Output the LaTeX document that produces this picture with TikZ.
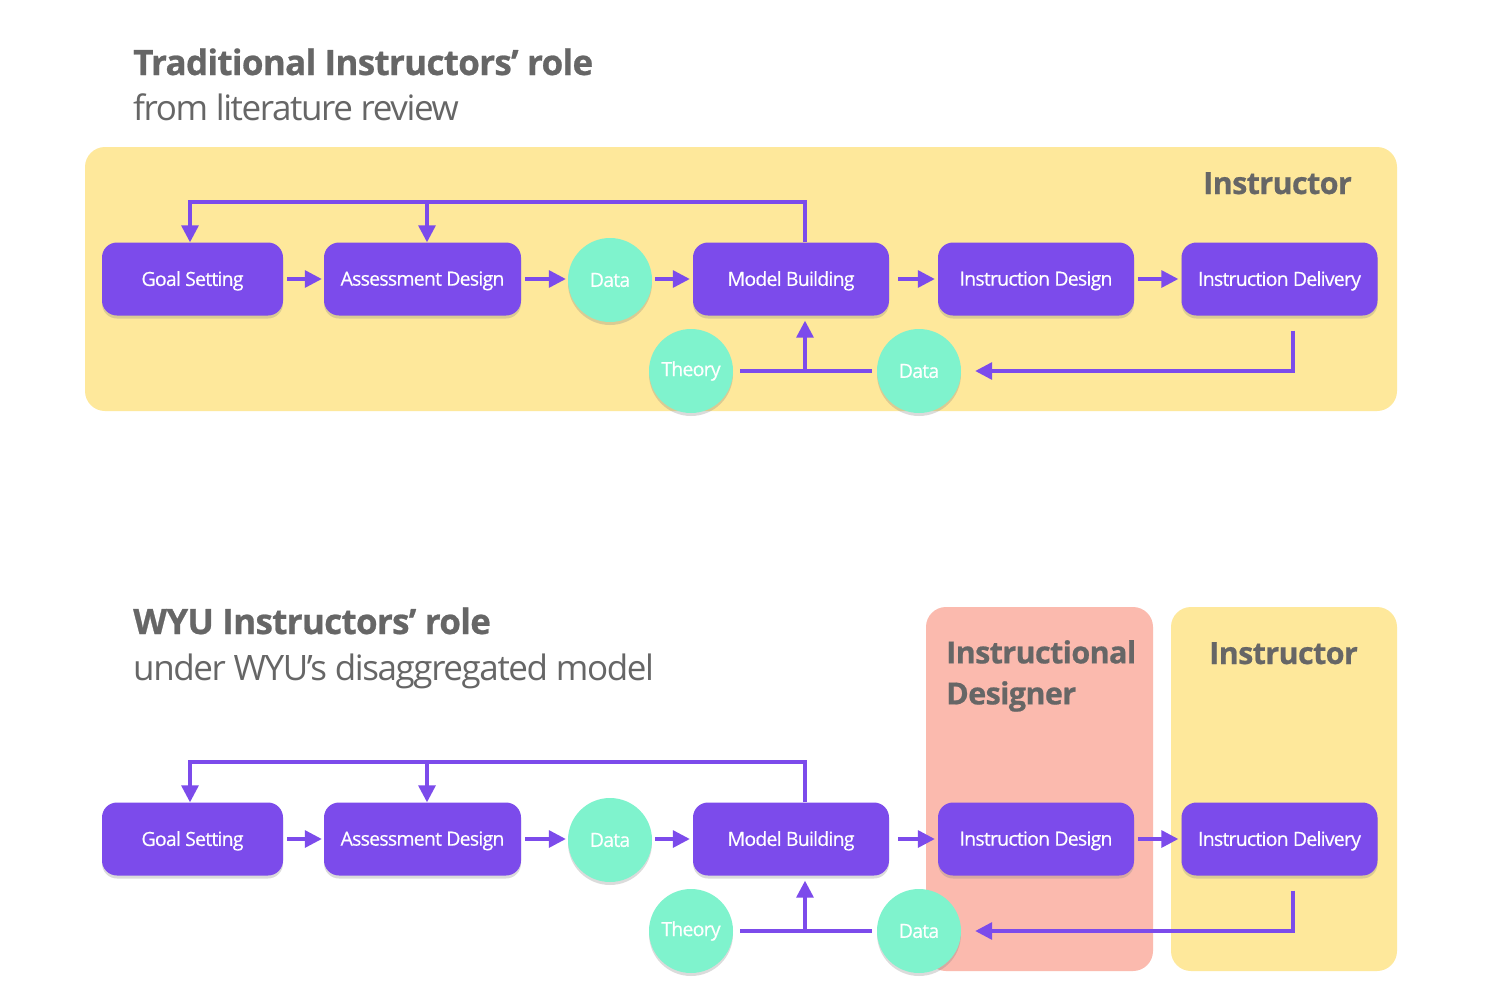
\documentclass[tikz,border=0pt]{standalone}
\usepackage{fontspec}
\setmainfont{Open Sans}[LetterSpace=-4]
\newfontfamily\xbold{Open Sans}[BoldFeatures={FakeBold=0.7}, LetterSpace=-2]
\newfontfamily\nodefont{Open Sans}[FakeBold=0.45, LetterSpace=-4]
\usetikzlibrary{arrows.meta,shadows,calc}
\definecolor{panelY}{HTML}{FEE89B}
\definecolor{panelP}{HTML}{FBBAAE}
\definecolor{proc}{HTML}{7C4BEB}
\definecolor{teal}{HTML}{7FF3CD}
\definecolor{txt}{HTML}{666666}
\tikzset{
  panel/.style={rounded corners=20pt, draw=none},
  procbox/.style={rectangle, rounded corners=15pt, fill=proc, text=white,
    minimum height=73pt, inner sep=0pt, text depth=1pt,
    font=\fontsize{19.5}{23}\selectfont\nodefont,
    drop shadow={opacity=0.28, shadow xshift=0pt, shadow yshift=-3pt}},
  datacirc/.style={circle, fill=teal, text=white, minimum size=84pt, inner sep=0pt,
    font=\fontsize{19.5}{23}\selectfont\nodefont,
    drop shadow={opacity=0.28, shadow xshift=0pt, shadow yshift=-3pt}},
  flow/.style={draw=proc, line width=3.3pt, line join=miter},
  arr/.style={flow, -{Triangle[length=17pt,width=17pt]}},
  title/.style={anchor=base west, text=txt, inner sep=0pt, font=\fontsize{35}{40}\selectfont\xbold\bfseries},
  subtitle/.style={anchor=base west, text=txt, inner sep=0pt, font=\fontsize{35}{40}\selectfont},
  role/.style={text=txt, inner sep=0pt, font=\fontsize{30.5}{41}\selectfont\xbold\bfseries, align=left},
}
\begin{document}
\begin{tikzpicture}[x=1pt,y=-1pt]
\useasboundingbox[fill=white] (0,0) rectangle (1510,993);

% ---------- titles ----------
\node[title] (t1) at (133,75) {Traditional Instructors’ role};
\node[subtitle] (s1) at (133,120) {from literature review};
\node[title] (t2) at (133,634) {WYU Instructors’ role};
\node[subtitle] (s2) at (133,680) {under WYU’s disaggregated model};

% ---------- panels ----------
\fill[panelY, panel] (85,147) rectangle (1397,411);
\fill[panelP, panel] (926,607) rectangle (1153,971);
\fill[panelY, panel] (1171,607) rectangle (1397,971);

\node[role, anchor=base east] (r1) at (1352,194) {Instructor};
\node[role, anchor=north west] (r2) at (946,640) {Instructional\\Designer};
\node[role, anchor=base west] (r3) at (1209,664) {Instructor};

% ---------- top diagram ----------
\node[procbox, minimum width=181pt] (gs) at (192.5,279) {Goal Setting};
\node[procbox, minimum width=197pt] (as) at (422.5,279) {Assessment Design};
\node[datacirc] (d1) at (610,280) {Data};
\node[procbox, minimum width=196pt] (mb) at (791,279) {Model Building};
\node[procbox, minimum width=196pt] (id) at (1036,279) {Instruction Design};
\node[procbox, minimum width=196pt] (dl) at (1279.5,279) {Instruction Delivery};
\node[datacirc] (th) at (691,371) {Theory};
\node[datacirc] (d2) at (919,371) {Data};

\draw[arr, shorten <=4pt, shorten >=2pt] (gs) -- (as);
\draw[arr, shorten <=4pt, shorten >=2pt] (as.east) -- (as.east -| d1.west);
\draw[arr, shorten <=3pt, shorten >=3pt] (d1.east |- mb.west) -- (mb.west);
\draw[arr, shorten <=9pt, shorten >=3pt] (mb) -- (id);
\draw[arr, shorten <=4pt, shorten >=3pt] (id) -- (dl);

\coordinate (fbR) at (805,202);
\coordinate (fbM) at (427,202);
\coordinate (fbL) at (190,202);
\draw[arr] (mb.north -| fbR) -- (fbR) -- (fbL) -- (gs.north -| fbL);
\draw[arr] (fbM) -- (as.north -| fbM);

\coordinate (jn) at (805,371);
\draw[flow, shorten <=7pt, shorten >=5pt] (th) -- (d2);
\draw[arr, shorten >=5pt] (jn) -- (mb.south -| jn);

\coordinate (dlc) at (1293,371);
\draw[arr, shorten >=14pt] ($(dl.south -| dlc)+(0,15)$) -- (dlc) -- (d2.east);

% ---------- bottom diagram ----------
\node[procbox, minimum width=181pt] (gsB) at (192.5,839) {Goal Setting};
\node[procbox, minimum width=197pt] (asB) at (422.5,839) {Assessment Design};
\node[datacirc] (d1B) at (610,840) {Data};
\node[procbox, minimum width=196pt] (mbB) at (791,839) {Model Building};
\node[procbox, minimum width=196pt] (idB) at (1036,839) {Instruction Design};
\node[procbox, minimum width=196pt] (dlB) at (1279.5,839) {Instruction Delivery};
\node[datacirc] (thB) at (691,931) {Theory};
\node[datacirc] (d2B) at (919,931) {Data};

\draw[arr, shorten <=4pt, shorten >=2pt] (gsB) -- (asB);
\draw[arr, shorten <=4pt, shorten >=2pt] (asB.east) -- (asB.east -| d1B.west);
\draw[arr, shorten <=3pt, shorten >=3pt] (d1B.east |- mbB.west) -- (mbB.west);
\draw[arr, shorten <=9pt, shorten >=3pt] (mbB) -- (idB);
\draw[arr, shorten <=4pt, shorten >=3pt] (idB) -- (dlB);

\coordinate (fbRB) at (805,762);
\coordinate (fbMB) at (427,762);
\coordinate (fbLB) at (190,762);
\draw[arr] (mbB.north -| fbRB) -- (fbRB) -- (fbLB) -- (gsB.north -| fbLB);
\draw[arr] (fbMB) -- (asB.north -| fbMB);

\coordinate (jnB) at (805,931);
\draw[flow, shorten <=7pt, shorten >=5pt] (thB) -- (d2B);
\draw[arr, shorten >=5pt] (jnB) -- (mbB.south -| jnB);

\coordinate (dlcB) at (1293,931);
\draw[arr, shorten >=14pt] ($(dlB.south -| dlcB)+(0,15)$) -- (dlcB) -- (d2B.east);
\end{tikzpicture}
\end{document}
